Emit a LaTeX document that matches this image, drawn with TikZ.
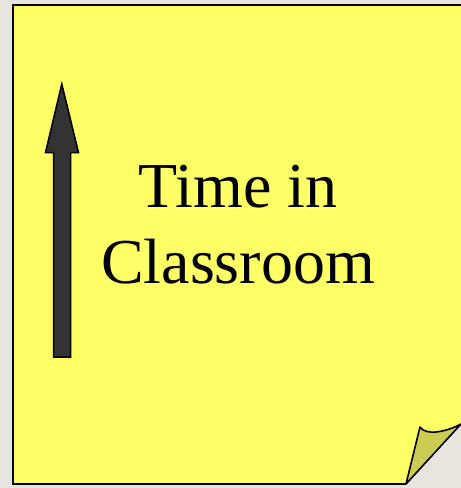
\documentclass[tikz,border=0pt]{standalone}
\usepackage{fontspec}
\setmainfont{Liberation Serif}
\usepackage{tikz}
\usetikzlibrary{arrows.meta, positioning}
\definecolor{NoteYellow}{RGB}{255, 255, 102}
\definecolor{FoldOlive}{RGB}{204, 204, 85}
\definecolor{DeskGray}{RGB}{232, 228, 222}
\definecolor{ArrowDark}{RGB}{51, 51, 51}

\begin{document}
\begin{tikzpicture}[x=1pt, y=-1pt, note/.style={fill=NoteYellow}, edge/.style={draw=black, line width=2.5pt, line join=miter},
  fold/.style={fill=FoldOlive, draw=black, line width=1.6pt, line join=round}, blockarrow/.style={fill=ArrowDark, draw=black, line width=1.5pt, line join=miter},
  label/.style={font=\fontsize{64}{76}\selectfont, align=center, inner sep=0pt}]
\fill[DeskGray] (0,0) rectangle (461,488);
\useasboundingbox (0,0) rectangle (461,488);
\fill[note] (13,5) -- (461,5) -- (461,424) -- (406,484) -- (13,484) -- cycle;
\draw[edge] (461,5) -- (13,5) -- (13,484) -- (406,484);
\draw[fold] (406,484) -- (420,427) .. controls (426,436) and (446,432) .. (461,424) -- cycle;
\draw[black, line width=0.6pt] (406,484) -- (461,424);
\draw[blockarrow] (53.5,357) -- (53.5,152.5) -- (45.5,152.5) -- (61.8,84) -- (78.5,152.5) -- (70.5,152.5) -- (70.5,357) -- cycle;
\node[label] (title) at (238,225) {Time in\\Classroom};
\end{tikzpicture}
\end{document}
